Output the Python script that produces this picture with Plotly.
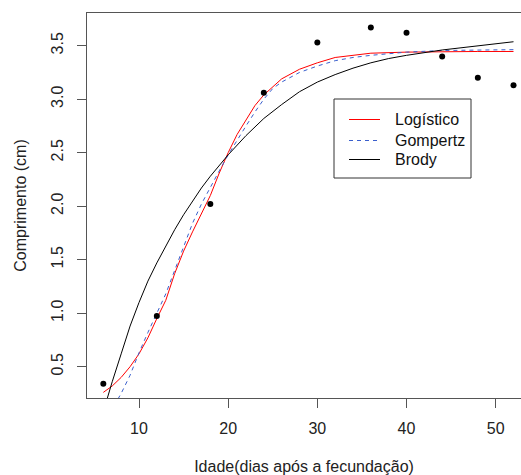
import plotly.graph_objects as go

# Observed data
idade = [6, 12, 18, 24, 30, 36, 40, 44, 48, 52]
comprimento = [0.34, 0.975, 2.02, 3.06, 3.53, 3.67, 3.62, 3.40, 3.20, 3.13]

# Fitted curves
x_log = [6, 7, 8, 9, 10, 11, 12, 13, 14, 15, 16, 17, 18, 19, 20, 21, 22, 23, 24, 26, 28, 30, 32, 34, 36, 40, 44, 48, 52]
y_log = [0.26, 0.32, 0.40, 0.50, 0.62, 0.77, 0.95, 1.12, 1.37, 1.58, 1.76, 1.93, 2.10, 2.31, 2.50, 2.67, 2.81, 2.94, 3.04, 3.19, 3.28, 3.34, 3.39, 3.41, 3.43, 3.44, 3.445, 3.446, 3.446]

x_gom = [6, 7, 7.7, 8, 9, 10, 11, 12, 13, 14, 15, 16, 17, 18, 19, 20, 21, 22, 23, 24, 25, 26, 28, 30, 32, 34, 36, 40, 44, 48, 52]
y_gom = [0.02, 0.12, 0.207, 0.25, 0.42, 0.63, 0.82, 1.00, 1.18, 1.40, 1.62, 1.84, 2.02, 2.18, 2.33, 2.48, 2.62, 2.75, 2.88, 3.00, 3.10, 3.16, 3.25, 3.31, 3.36, 3.39, 3.41, 3.44, 3.455, 3.46, 3.463]

x_bro = [6, 6.44, 7, 8, 9, 10, 11, 12, 13, 14, 15, 16, 17, 18, 19, 20, 22, 24, 26, 28, 30, 32, 34, 36, 38, 40, 44, 48, 52]
y_bro = [0.08, 0.207, 0.36, 0.62, 0.88, 1.10, 1.30, 1.47, 1.63, 1.78, 1.92, 2.05, 2.17, 2.28, 2.38, 2.48, 2.66, 2.82, 2.95, 3.07, 3.16, 3.23, 3.29, 3.34, 3.38, 3.41, 3.46, 3.50, 3.537]

x_ticks = [10, 20, 30, 40, 50]
y_ticks = [0.5, 1.0, 1.5, 2.0, 2.5, 3.0, 3.5]
y_ticktext = ["0.5", "1.0", "1.5", "2.0", "2.5", "3.0", "3.5"]

legend_names = ["Logístico", "Gompertz", "Brody"]
legend_colors = ["red", "#3a5fcd", "black"]
legend_dash = ["solid", "4px,4px", "solid"]

FONT = "Liberation Sans, Arial, sans-serif"
AXC = "#555555"
TXT = "#222222"

fig = go.Figure()
for xs, ys, nm, col, dsh in zip([x_log, x_gom, x_bro], [y_log, y_gom, y_bro],
                                legend_names, legend_colors, legend_dash):
    fig.add_trace(go.Scatter(x=xs, y=ys, mode="lines",
                             line=dict(color=col, width=1, dash=dsh),
                             name=nm, showlegend=False))
fig.add_trace(go.Scatter(x=idade, y=comprimento, mode="markers",
                         marker=dict(color="black", size=6), showlegend=False,
                         cliponaxis=False))

# Manual legend box (paper coordinates)
L, R, B, T = 87, 521, 398, 13
def px(xp):
    return (xp - L) / (R - L)
def py(yp):
    return (B - yp) / (B - T)

fig.add_shape(type="rect", xref="paper", yref="paper",
              x0=px(334), x1=px(471), y0=py(178), y1=py(99),
              line=dict(color="#333333", width=1), fillcolor="white", layer="above")
rows = [119.5, 140.5, 159.5]
for name, col, dash, yr in zip(legend_names, legend_colors, legend_dash, rows):
    fig.add_shape(type="line", xref="paper", yref="paper",
                  x0=px(349), x1=px(380), y0=py(yr), y1=py(yr),
                  line=dict(color=col, width=1, dash=dash), layer="above")
    fig.add_annotation(xref="paper", yref="paper", x=px(393), y=py(yr),
                       text=name, showarrow=False, xanchor="left", yanchor="middle",
                       font=dict(family=FONT, size=16, color="#111111"))

fig.update_layout(
    width=521, height=475, autosize=False,
    margin=dict(l=L, r=0, t=T, b=475 - B, pad=0),
    paper_bgcolor="white", plot_bgcolor="white",
    font=dict(family=FONT, size=16, color=TXT),
    showlegend=False,
)
fig.update_xaxes(
    range=[4.169, 52.84], tickvals=x_ticks, ticks="outside", ticklen=9,
    tickcolor=AXC, tickwidth=1, showline=True, linecolor=AXC, linewidth=1,
    mirror=True, showgrid=False, zeroline=False, ticklabelstandoff=7,
    tickfont=dict(family=FONT, size=16, color=TXT),
    title=dict(text="Idade(dias após a fecundação)", standoff=24,
               font=dict(family=FONT, size=16, color=TXT)),
)
fig.update_yaxes(
    range=[0.2075, 3.8056], tickvals=y_ticks, ticktext=y_ticktext, tickangle=-90,
    ticks="outside", ticklen=9, tickcolor=AXC, tickwidth=1,
    showline=True, linecolor=AXC, linewidth=1, mirror=False,
    showgrid=False, zeroline=False, ticklabelstandoff=8,
    tickfont=dict(family=FONT, size=16, color=TXT),
    title=dict(text="Comprimento (cm)", standoff=17,
               font=dict(family=FONT, size=16, color=TXT)),
)

fig.write_html("out.html")
